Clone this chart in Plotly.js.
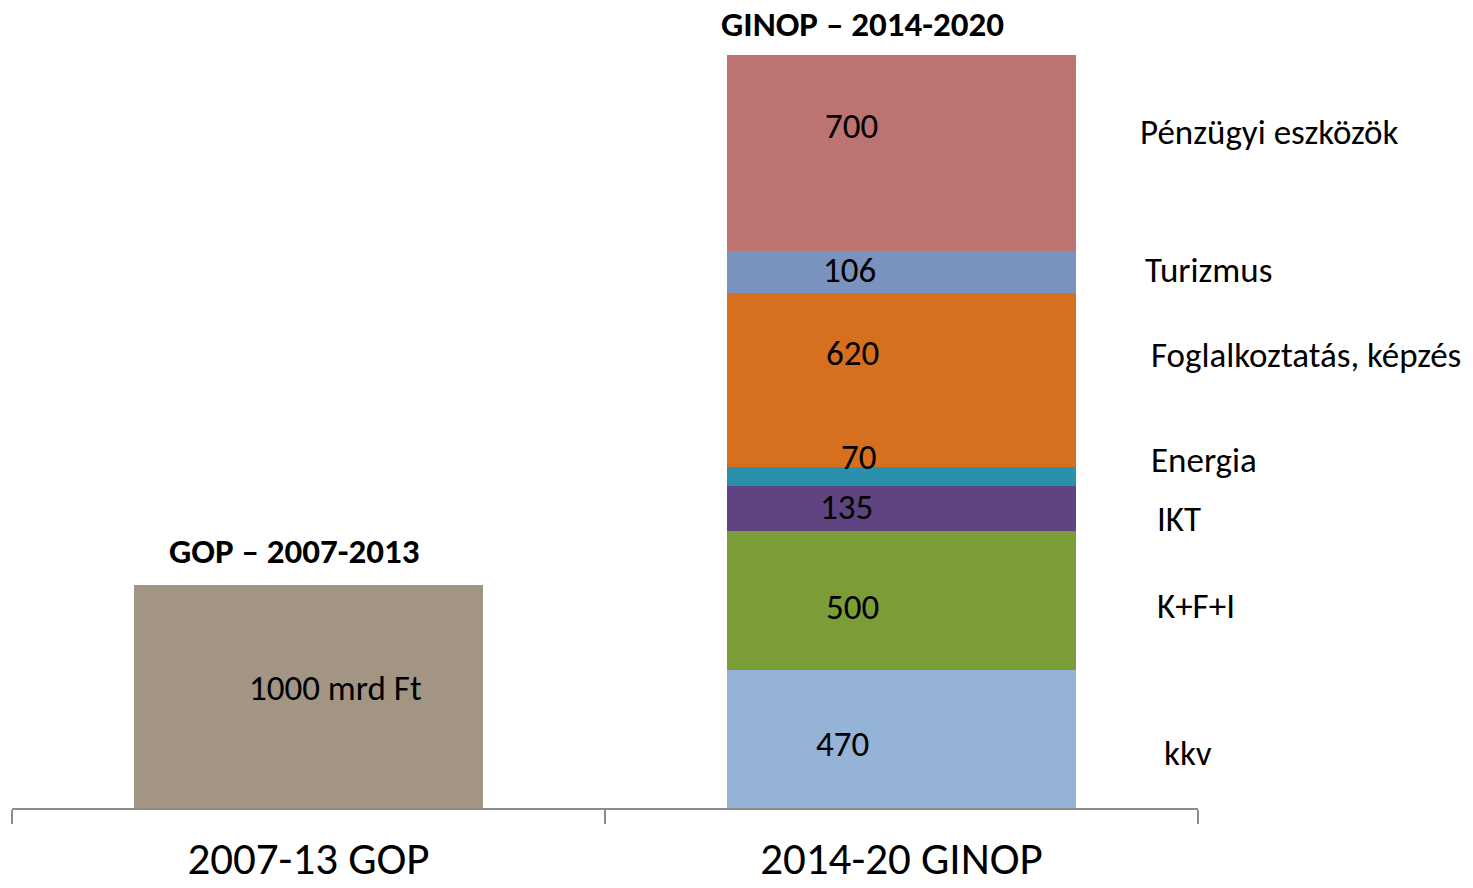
<!DOCTYPE html>
<html>
<head>
<meta charset="utf-8">
<script src="https://cdn.plot.ly/plotly-3.0.1.min.js"></script>
<style>html,body{margin:0;padding:0;background:#fff;}#chart{width:1473px;height:888px;}</style>
</head>
<body>
<div id="chart"></div>
<script>
// ---- data ----
const categories = ['2007-13 GOP', '2014-20 GINOP'];
const periodTitles = ['GOP – 2007-2013', 'GINOP – 2014-2020'];
const gopHeight = [770];            // drawn height of GOP bar
const gopLabel = '1000 mrd Ft';
const seriesNames = ['kkv', 'K+F+I', 'IKT', 'Energia', 'Foglalkoztatás, képzés', 'Turizmus', 'Pénzügyi eszközök'];
const seriesHeights = [478, 480, 154, 67, 598, 145, 677]; // drawn segment heights
const seriesLabels = ['470', '500', '135', '70', '620', '106', '700'];
const seriesColors = ['#95B3D7', '#7B9D38', '#604481', '#2B90AC', '#D66F1E', '#7992BE', '#BC7372'];
const gopColor = '#A39584';

// ---- layout tweaks (pixel offsets of text) ----
const valueShift = [[-59, -5], [-49, -7], [-55, 1], [-43, 19], [-49, 27], [-52, 2], [-50, 27]];
const nameShift = [[262, -14], [255, -6], [255, -11], [249, 16], [249, 25], [243, 2], [238, 21]];
const FONT = 'Carlito, Calibri, Lato, sans-serif';

const traces = [{
  type: 'bar', x: [categories[0]], y: gopHeight, name: 'GOP',
  marker: {color: gopColor, line: {width: 0}}, hoverinfo: 'skip', showlegend: false
}];
seriesNames.forEach((n, i) => {
  traces.push({
    type: 'bar', x: [categories[1]], y: [seriesHeights[i]], name: n,
    marker: {color: seriesColors[i], line: {width: 0}}, hoverinfo: 'skip', showlegend: false
  });
});

const annotations = [];
let base = 0;
seriesHeights.forEach((h, i) => {
  const mid = base + h / 2;
  annotations.push({
    x: categories[1], y: mid, xref: 'x', yref: 'y', text: seriesLabels[i], showarrow: false,
    xshift: valueShift[i][0], yshift: valueShift[i][1], font: {family: FONT, size: 35, color: '#000'}
  });
  annotations.push({
    x: categories[1], y: mid, xref: 'x', yref: 'y', text: seriesNames[i], showarrow: false,
    xanchor: 'left', xshift: nameShift[i][0] - 2, yshift: nameShift[i][1], font: {family: FONT, size: 35, color: '#000'}
  });
  base += h;
});
const totals = [gopHeight[0], base];
annotations.push({
  x: categories[0], y: gopHeight[0] / 2, xref: 'x', yref: 'y', text: gopLabel, showarrow: false,
  xshift: 27, yshift: 9, font: {family: FONT, size: 35, color: '#000'}
});
annotations.push({
  x: categories[0], y: totals[0], xref: 'x', yref: 'y', text: '<b>' + periodTitles[0] + '</b>', showarrow: false,
  yanchor: 'bottom', xshift: -14, yshift: 11, font: {family: FONT, size: 35, color: '#000'}
});
annotations.push({
  x: categories[1], y: totals[1], xref: 'x', yref: 'y', text: '<b>' + periodTitles[1] + '</b>', showarrow: false,
  yanchor: 'bottom', xshift: -39, yshift: 8, font: {family: FONT, size: 35, color: '#000'}
});

const layout = {
  width: 1473, height: 888,
  margin: {l: 12, r: 275, t: 55, b: 80},
  paper_bgcolor: '#fff', plot_bgcolor: '#fff',
  barmode: 'stack', bargap: 0.41,
  showlegend: false,
  xaxis: {
    type: 'category', range: [-0.5, 1.5], showline: true, linecolor: '#8C8C8C', linewidth: 1.5,
    ticks: 'outside', tickson: 'boundaries', ticklen: 14, tickcolor: '#8C8C8C', tickwidth: 1.5,
    ticklabelstandoff: 10,
    showgrid: false, zeroline: false, tickfont: {family: FONT, size: 45, color: '#000'}
  },
  yaxis: {range: [0, 2600], visible: false, showgrid: false, zeroline: false},
  annotations: annotations
};

Plotly.newPlot('chart', traces, layout, {displayModeBar: false, staticPlot: true});
</script>
</body>
</html>
